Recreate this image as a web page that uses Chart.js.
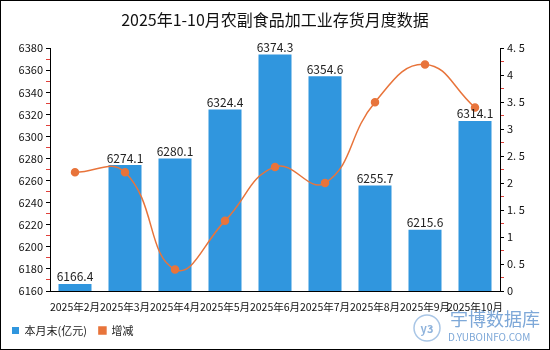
<!DOCTYPE html>
<html>
<head>
<meta charset="utf-8">
<script src="https://cdn.jsdelivr.net/npm/chart.js@4.4.1/dist/chart.umd.min.js"></script>
<style>
  html, body { margin: 0; padding: 0; background: #fff; }
  #wrap { width: 550px; height: 350px; position: relative; }
</style>
</head>
<body>
<div id="wrap"><canvas id="c" width="550" height="350"></canvas></div>
<script>
'use strict';

const FONT = "'Noto Sans CJK SC', 'DejaVu Sans', sans-serif";
Chart.defaults.font.family = FONT;
Chart.defaults.color = '#222';

const MONTHS    = ['2025年2月', '2025年3月', '2025年4月', '2025年5月', '2025年6月',
                   '2025年7月', '2025年8月', '2025年9月', '2025年10月'];
const INVENTORY = [6166.4, 6274.1, 6280.1, 6324.4, 6374.3, 6354.6, 6255.7, 6215.6, 6314.1];
const CHANGE    = [2.2, 2.2, 0.4, 1.3, 2.3, 2.0, 3.5, 4.2, 3.4];

const BAR_BLUE  = '#3096de';
const LINE_ORG  = '#e8743b';
const TICK_RED  = '#e0403a';

// ─── Plugins ──────────────────────────────────────────────────────────────────

// value labels above each bar
const barLabels = {
  id: 'barLabels',
  afterDatasetsDraw(chart) {
    const { ctx } = chart;
    const meta = chart.getDatasetMeta(0);
    ctx.save();
    ctx.font = `12px ${FONT}`;
    ctx.fillStyle = '#222';
    ctx.textAlign = 'center';
    ctx.textBaseline = 'bottom';
    meta.data.forEach((bar, i) => {
      ctx.fillText(INVENTORY[i].toFixed(1), bar.x, bar.y - 1);
    });
    ctx.restore();
  },
};

// outer frame + watermark
const frame = {
  id: 'frame',
  afterDraw(chart) {
    const { ctx, width, height } = chart;
    ctx.save();
    ctx.strokeStyle = '#000';
    ctx.lineWidth = 1;
    ctx.strokeRect(0.5, 0.5, width - 1, height - 1);

    // watermark
    ctx.strokeStyle = '#a9c6e6';
    ctx.lineWidth = 1.5;
    ctx.beginPath();
    ctx.arc(427, 328, 13, 0, Math.PI * 2);
    ctx.stroke();
    ctx.fillStyle = '#8fb3dc';
    ctx.font = `bold 11px ${FONT}`;
    ctx.textAlign = 'center';
    ctx.textBaseline = 'middle';
    ctx.fillText('y3', 427, 329);
    ctx.fillStyle = '#7ea8d8';
    ctx.textAlign = 'left';
    ctx.font = `18px ${FONT}`;
    ctx.fillText('宇博数据库', 450, 319);
    ctx.font = `10px ${FONT}`;
    ctx.fillText('D.YUBOINFO.COM', 448, 337);
    ctx.restore();
  },
};

// ─── Chart ────────────────────────────────────────────────────────────────────

new Chart(document.getElementById('c').getContext('2d'), {
  data: {
    labels: MONTHS,
    datasets: [
      {
        type: 'bar',
        label: '本月末(亿元)',
        data: INVENTORY,
        backgroundColor: BAR_BLUE,
        yAxisID: 'y',
        barPercentage: 0.66,
        categoryPercentage: 1,
        order: 2,
      },
      {
        type: 'line',
        label: '增减',
        data: CHANGE,
        borderColor: LINE_ORG,
        backgroundColor: LINE_ORG,
        borderWidth: 1.5,
        pointRadius: 3.5,
        pointBackgroundColor: LINE_ORG,
        tension: 0.45,
        yAxisID: 'y1',
        order: 1,
      },
    ],
  },
  options: {
    responsive: false,
    animation: false,
    layout: { padding: { top: 0, right: 0, bottom: 4, left: 0 } },
    plugins: {
      title: {
        display: true,
        text: '2025年1-10月农副食品加工业存货月度数据',
        font: { size: 16, weight: 'normal', family: FONT },
        color: '#111',
        padding: { top: 10, bottom: 19 },
      },
      legend: {
        position: 'bottom',
        align: 'start',
        labels: {
          boxWidth: 7,
          boxHeight: 7,
          usePointStyle: true,
          pointStyle: 'rect',
          font: { size: 11 },
          padding: 12,
          sort: (a, b) => a.datasetIndex - b.datasetIndex,
        },
      },
      tooltip: { enabled: false },
    },
    scales: {
      x: {
        offset: true,
        grid: { display: false, drawTicks: true },
        border: { color: '#000' },
        ticks: { autoSkip: false, maxRotation: 0, font: { size: 10.5 }, color: '#111', padding: 2 },
        afterFit: s => { s.height = 22; },
      },
      y: {
        position: 'left',
        min: 6160,
        max: 6380,
        border: { color: '#000' },
        grid: {
          drawOnChartArea: false,
          tickLength: 4,
          tickColor: c => (c.tick && c.tick.value % 20 !== 0 ? TICK_RED : '#000'),
        },
        ticks: {
          stepSize: 10,
          autoSkip: false,
          font: { size: 11 },
          color: '#111',
          callback: v => (v % 20 === 0 ? v : ''),
        },
        afterFit: s => { s.width = 50; },
      },
      y1: {
        position: 'right',
        min: 0,
        max: 4.5,
        border: { color: '#000' },
        grid: {
          drawOnChartArea: false,
          tickLength: 4,
          tickColor: c => (c.tick && Math.round(c.tick.value * 100) % 50 !== 0 ? TICK_RED : '#000'),
        },
        ticks: {
          stepSize: 0.25,
          autoSkip: false,
          font: { size: 11 },
          color: '#111',
          callback: v => (Math.round(v * 100) % 50 === 0 ? String(v).replace('.', '. ') : ''),
        },
        afterFit: s => { s.width = 50; },
      },
    },
  },
  plugins: [barLabels, frame],
});
</script>
</body>
</html>
